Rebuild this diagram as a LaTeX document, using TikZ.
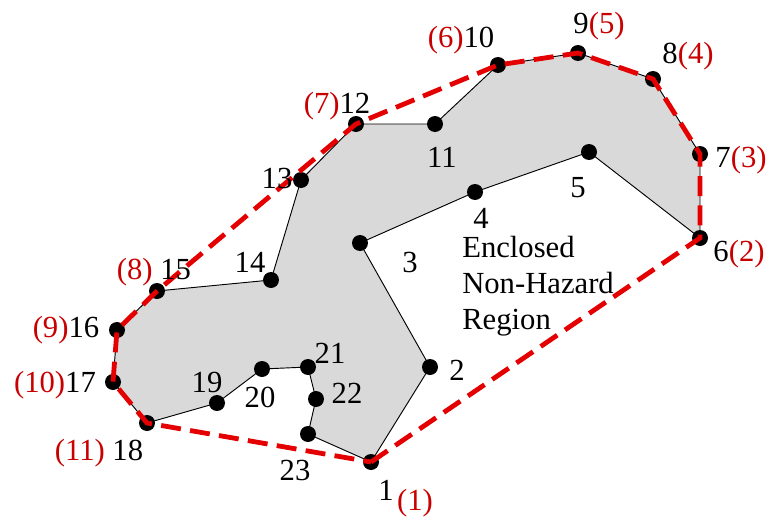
\documentclass[tikz,border=0pt]{standalone}
\usepackage{fontspec}
\setmainfont{Liberation Serif}
\definecolor{polyfill}{RGB}{217,217,217}
\definecolor{hullred}{RGB}{228,0,0}
\definecolor{numred}{RGB}{200,0,0}
\begin{document}
\begin{tikzpicture}[x=0.75pt,y=-0.75pt,
  vert/.style={circle,fill=black,inner sep=0pt,minimum size=12pt},
  lbl/.style={anchor=base,inner sep=0pt,font=\fontsize{23}{27}\selectfont},
  rlbl/.style={lbl,text=numred},
  hull/.style={hullred,line width=3.6pt,dash pattern=on 15pt off 7pt,line join=miter},
  edgeline/.style={black,line width=0.7pt}]
\useasboundingbox (0,0) rectangle (769,518);
\coordinate (p1) at (371,462);
\coordinate (p2) at (430,367);
\coordinate (p3) at (360,243);
\coordinate (p4) at (475,192);
\coordinate (p5) at (589,152);
\coordinate (p6) at (700,238);
\coordinate (p7) at (700,154);
\coordinate (p8) at (653,79);
\coordinate (p9) at (578,53);
\coordinate (p10) at (498,65);
\coordinate (p11) at (435,124);
\coordinate (p12) at (356,124);
\coordinate (p13) at (301,180);
\coordinate (p14) at (271,280);
\coordinate (p15) at (157,291);
\coordinate (p16) at (117,330);
\coordinate (p17) at (113,382);
\coordinate (p18) at (147,423);
\coordinate (p19) at (217,403);
\coordinate (p20) at (262,369);
\coordinate (p21) at (308,367);
\coordinate (p22) at (316,399);
\coordinate (p23) at (308,434);
\fill[polyfill] (p1) -- (p2) -- (p3) -- (p4) -- (p5) -- (p6) -- (p7) -- (p8) -- (p9) -- (p10) -- (p11) -- (p12) -- (p13) -- (p14) -- (p15) -- (p16) -- (p17) -- (p18) -- (p19) -- (p20) -- (p21) -- (p22) -- (p23) -- cycle;
\draw[edgeline] (p1) -- (p2) -- (p3) -- (p4) -- (p5) -- (p6) -- (p7) -- (p8) -- (p9) -- (p10) -- (p11) -- (p12) -- (p13) -- (p14) -- (p15) -- (p16) -- (p17) -- (p18) -- (p19) -- (p20) -- (p21) -- (p22) -- (p23) -- cycle;
\foreach \i in {1,...,23} {\node[vert] (v\i) at (p\i) {};}
\draw[hull] (v1.center) -- (v6.center) -- (v7.center) -- (v8.center) -- (v9.center) -- (v10.center) -- (v12.center) -- (v15.center) -- (v16.center) -- (v17.center) -- (v18.center) -- cycle;
% labels
\node[lbl] (l1) at (386,500) {1};
\node[rlbl] (r1) at (415,510) {(1)};
\node[lbl] (l2) at (457,380) {2};
\node[lbl] (l3) at (410,272) {3};
\node[lbl] (l4) at (481,228) {4};
\node[lbl] (l5) at (578,197) {5};
\node[lbl] (l6) at (739,261) {6\textcolor{numred}{(2)}};
\node[lbl] (l7) at (741,167) {7\textcolor{numred}{(3)}};
\node[lbl] (l8) at (688,63) {8\textcolor{numred}{(4)}};
\node[lbl] (l9) at (599,33) {9\textcolor{numred}{(5)}};
\node[lbl] (l10) at (461,47) {\textcolor{numred}{(6)}10};
\node[lbl] (l11) at (442,167) {11};
\node[lbl] (l12) at (337,113) {\textcolor{numred}{(7)}12};
\node[lbl] (l13) at (277,188) {13};
\node[lbl] (l14) at (250,272) {14};
\node[lbl] (l15) at (154,279) {\textcolor{numred}{(8)} 15};
\node[lbl] (l16) at (66,337) {\textcolor{numred}{(9)}16};
\node[lbl] (l17) at (55,392) {\textcolor{numred}{(10)}17};
\node[lbl] (l18) at (99,460) {\textcolor{numred}{(11)} 18};
\node[lbl] (l19) at (207,392) {19};
\node[lbl] (l20) at (260,407) {20};
\node[lbl] (l21) at (330,363) {21};
\node[lbl] (l22) at (347,403) {22};
\node[lbl] (l23) at (295,480) {23};
\node[anchor=north west,inner sep=0pt,align=left,font=\fontsize{23}{27}\selectfont] (region) at (462,236) {Enclosed\\Non-Hazard\\Region};
\end{tikzpicture}
\end{document}
